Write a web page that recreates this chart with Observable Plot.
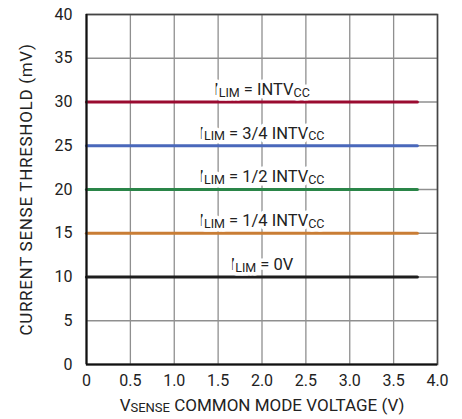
<!DOCTYPE html>
<html>
<head>
<meta charset="utf-8">
<script src="https://cdn.jsdelivr.net/npm/d3@7"></script>
<script src="https://cdn.jsdelivr.net/npm/@observablehq/plot@0.6"></script>
<style>
  html, body { margin: 0; padding: 0; background: #fff; }
  svg { display: block; }
</style>
</head>
<body>
<div id="chart"></div>
<script>
// ---- data ----
const seriesNames = ["ILIM = INTVCC", "ILIM = 3/4 INTVCC", "ILIM = 1/2 INTVCC", "ILIM = 1/4 INTVCC", "ILIM = 0V"];
// label parts: even index = normal text, odd index = subscript
const labelParts = [
  ["I", "LIM", " = INTV", "CC"],
  ["I", "LIM", " = 3/4 INTV", "CC"],
  ["I", "LIM", " = 1/2 INTV", "CC"],
  ["I", "LIM", " = 1/4 INTV", "CC"],
  ["I", "LIM", " = 0V"]
];
const thresholds = [30, 25, 20, 15, 10];           // mV
const seriesColors = ["#9a0b30", "#4a68bb", "#2a8548", "#c97d35", "#1e1e1e"];
const xStart = [0, 0, 0, 0, 0];                   // V
const xEnd = [3.77, 3.77, 3.77, 3.77, 3.77];      // V
const labelX = [2.0, 2.0, 2.0, 2.0, 2.0];
const xTicks = [0, 0.5, 1.0, 1.5, 2.0, 2.5, 3.0, 3.5, 4.0];
const xTickLabels = ["0", "0.5", "1.0", "1.5", "2.0", "2.5", "3.0", "3.5", "4.0"];
const yTicks = [0, 5, 10, 15, 20, 25, 30, 35, 40];
const xTitleParts = ["V", "SENSE", " COMMON MODE VOLTAGE (V)"];
const yTitle = "CURRENT SENSE THRESHOLD (mV)";

// ---- build tables ----
const lineRows = [];
seriesNames.forEach((s, i) => {
  lineRows.push({series: s, x: xStart[i], y: thresholds[i]});
  lineRows.push({series: s, x: xEnd[i], y: thresholds[i]});
});
const labelRows = seriesNames.map((s, i) => ({series: s, idx: i, x: labelX[i], y: thresholds[i], text: labelParts[i].join("")}));

const FONT = "Roboto, 'Liberation Sans', sans-serif";

const plot = Plot.plot({
  width: 462,
  height: 419,
  marginLeft: 86,
  marginRight: 25,
  marginTop: 14,
  marginBottom: 55,
  style: {fontFamily: FONT, fontSize: "16px", color: "#222", background: "#fff"},
  x: {domain: [0, 4]},
  y: {domain: [0, 40]},
  color: {domain: seriesNames, range: seriesColors},
  marks: [
    Plot.gridX(xTicks, {stroke: "#8f8f8f", strokeOpacity: 1, strokeWidth: 1.3}),
    Plot.gridY(yTicks, {stroke: "#8f8f8f", strokeOpacity: 1, strokeWidth: 1.3}),
    Plot.line(lineRows, {x: "x", y: "y", z: "series", stroke: "series", strokeWidth: 3.2}),
    Plot.text(labelRows, {
      x: "x", y: "y", text: "text", dy: -12.5, fill: "#222",
      stroke: "white", strokeWidth: 7, fontSize: 16.5
    }),
    Plot.frame({stroke: "#444", strokeWidth: 1.6}),
    Plot.ruleX([0], {stroke: "#111", strokeWidth: 2}),
    Plot.ruleY([0], {stroke: "#111", strokeWidth: 2}),
    Plot.axisX(xTicks, {
      tickSize: 0, tickPadding: 10, tickFormat: (d, i) => xTickLabels[i],
      label: xTitleParts.join(""), labelAnchor: "center", labelOffset: 46, fontSize: 16
    }),
    Plot.axisY(yTicks, {
      tickSize: 0, tickPadding: 14,
      label: yTitle, labelAnchor: "center", labelOffset: 67, labelArrow: "none", fontSize: 16
    })
  ]
});

document.getElementById("chart").appendChild(plot);

// ---- subscripts: rebuild label text with tspans ----
function applyParts(textEl, parts, subSize, subShift) {
  const sel = d3.select(textEl);
  sel.text(null);
  parts.forEach((p, k) => {
    const t = sel.append("tspan").text(p);
    if (k % 2 === 1) {
      t.attr("font-size", subSize).attr("dy", subShift);
    } else if (k > 0) {
      t.attr("dy", -subShift);
    }
  });
}
const svg = d3.select(plot);
svg.selectAll('g[aria-label="text"] text').each(function(d, i) {
  applyParts(this, labelParts[i], 12.5, 1.8);
});
// axis titles
svg.selectAll('g[aria-label="x-axis label"] text')
  .attr("font-size", 17)
  .each(function() { applyParts(this, xTitleParts, 13, 1.8); });
svg.selectAll('g[aria-label="y-axis label"] text')
  .attr("font-size", 17)
  .attr("letter-spacing", 0.7);
</script>
</body>
</html>
